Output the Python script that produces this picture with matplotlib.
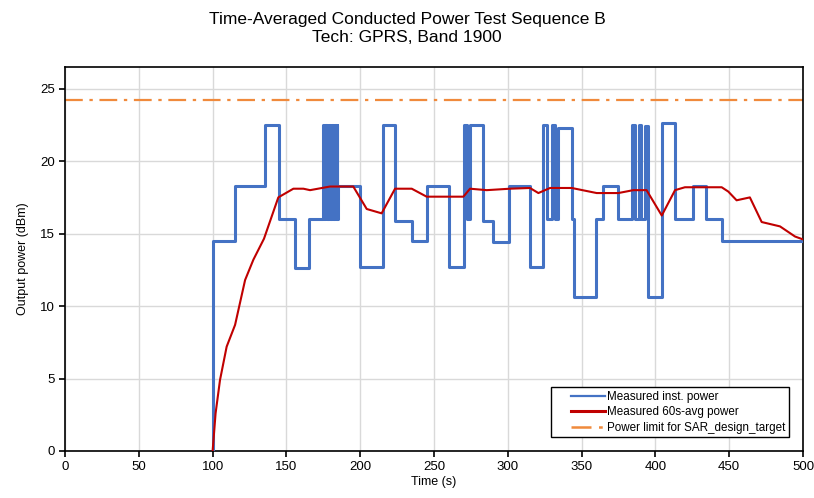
import matplotlib
matplotlib.use("Agg")
import matplotlib.pyplot as plt
from matplotlib.legend_handler import HandlerBase
from matplotlib.lines import Line2D

plt.rcParams['font.family'] = ['Liberation Sans', 'DejaVu Sans']

# Measured instantaneous power: step breakpoints (time s, level dBm)
inst_t = [100, 100, 115, 135.5, 145, 156, 165,
          175.0, 175.5, 176.0, 176.5, 177.0, 177.5, 178.0, 178.5, 179.0, 179.5,
          180.0, 180.5, 181.0, 181.5, 182.0, 182.5, 183.0, 183.5, 184.0, 184.5,
          185, 200, 215.5, 223.5, 235, 245, 260, 270, 272.2, 274.4, 283.4, 290,
          300.5, 315, 323.8, 326.3, 329.7, 332, 334.2, 343.3, 344.9, 359.8, 364.7,
          374.9, 384, 386.3, 389, 390.2, 392.9, 395, 404.2, 413.2, 425.7, 434.1,
          444.9, 500]
inst_p = [0, 14.5, 18.3, 22.5, 16.0, 12.6, 16.0,
          22.5, 16.0, 22.5, 16.0, 22.5, 16.0, 22.5, 16.0, 22.5, 16.0,
          22.5, 16.0, 22.5, 16.0, 22.5, 16.0, 22.5, 16.0, 22.5, 16.0,
          18.3, 12.7, 22.5, 15.9, 14.5, 18.3, 12.7, 22.5, 16.0, 22.5, 15.9, 14.4,
          18.3, 12.7, 22.5, 16.0, 22.5, 16.0, 22.3, 16.0, 10.6, 16.0, 18.3,
          16.0, 22.5, 16.0, 22.5, 16.0, 22.4, 10.6, 22.6, 16.0, 18.3, 16.0,
          14.5, 14.5]

# Measured 60 s average power
avg_t = [100, 102, 105, 109.5, 115.2, 122, 127.6, 134.8, 144.5, 154.7, 161.5,
         166, 179.5, 195.3, 204.4, 214.5, 223.6, 234.9, 245, 269.9, 274.4,
         285.7, 301.5, 315, 320.7, 328.6, 343.3, 360.2, 374.9, 385, 394,
         404.3, 413.3, 420, 444.9, 449.4, 455, 464, 472, 484.4, 494.6, 500]
avg_p = [0, 2.6, 4.9, 7.2, 8.7, 11.8, 13.2, 14.65, 17.5, 18.1, 18.1,
         18.0, 18.25, 18.25, 16.7, 16.4, 18.1, 18.1, 17.55, 17.55, 18.1,
         18.0, 18.1, 18.15, 17.8, 18.15, 18.15, 17.8, 17.8, 18.0, 18.0,
         16.25, 18.0, 18.2, 18.2, 17.9, 17.3, 17.5, 15.8, 15.5, 14.8, 14.6]

sar_limit = 24.2


class PadHandler(HandlerBase):
    """Legend line drawn only in the right part of the handle box."""
    def __init__(self, lw=None, **kw):
        super().__init__(**kw)
        self._lw = lw

    def create_artists(self, legend, orig_handle, xdescent, ydescent,
                       width, height, fontsize, trans):
        y = height / 2.0 - ydescent
        x0 = -xdescent + 0.33 * width
        x1 = -xdescent + width
        line = Line2D([x0, x1], [y, y])
        self.update_prop(line, orig_handle, legend)
        if self._lw is not None:
            line.set_linewidth(self._lw)
        line.set_transform(trans)
        return [line]


fig = plt.figure(figsize=(8.14, 4.98), dpi=100)
ax = fig.add_axes([0.0799, 0.0944, 0.9066, 0.7711])

h_inst, = ax.plot(inst_t, inst_p, drawstyle='steps-post', color='#4472C4', lw=2.2,
                  label='Measured inst. power', zorder=3)
h_avg, = ax.plot(avg_t, avg_p, color='#C00000', lw=1.5,
                 label='Measured 60s-avg power', zorder=4)
h_lim = ax.axhline(sar_limit, color='#F08A3C', lw=1.6, ls=(0, (8, 3, 1.5, 3)),
                   label='Power limit for SAR_design_target', zorder=2)

ax.set_xlim(0, 500)
ax.set_ylim(0, 26.5)
ax.set_xticks(range(0, 501, 50))
ax.set_yticks(range(0, 26, 5))
ax.grid(True, color='#D9D9D9', lw=1.0)
ax.set_axisbelow(True)
ax.tick_params(direction='out', length=4, width=1.2, labelsize=9.5, colors='black')
for s in ax.spines.values():
    s.set_color('black')
    s.set_linewidth(1.2)

ax.set_xlabel('Time (s)', fontsize=9, labelpad=2)
ax.set_ylabel('Output power (dBm)', fontsize=9, labelpad=8)

fig.suptitle('Time-Averaged Conducted Power Test Sequence B\nTech: GPRS, Band 1900',
             fontsize=12.5, y=0.975, linespacing=1.25)

leg = ax.legend(handles=[h_inst, h_avg, h_lim],
                loc='lower right', bbox_to_anchor=(0.981, 0.036), borderaxespad=0,
                fontsize=8.4, frameon=True, fancybox=False, edgecolor='black',
                framealpha=1, handlelength=4.3, handletextpad=0.2,
                borderpad=0.3, labelspacing=0.3,
                handler_map={h_inst: PadHandler(lw=1.6),
                             h_avg: PadHandler(lw=2.2),
                             h_lim: PadHandler(lw=1.8)})
leg.get_frame().set_linewidth(1.0)

fig.savefig('out.png', dpi=100)
